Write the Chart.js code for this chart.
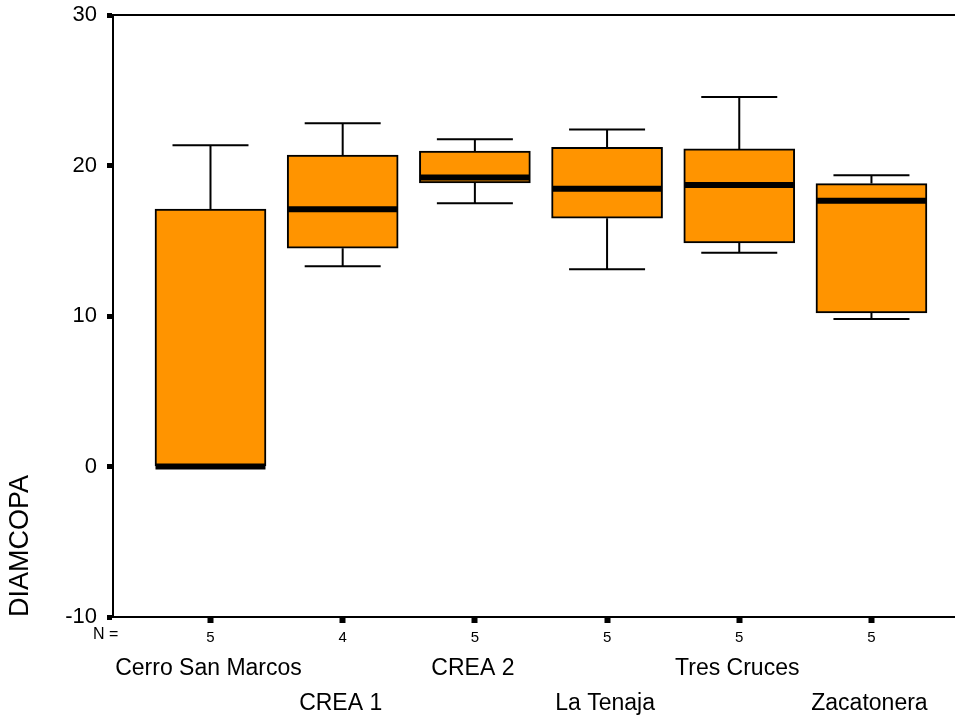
<!DOCTYPE html>
<html>
<head>
<meta charset="utf-8">
<script src="https://cdn.jsdelivr.net/npm/chart.js@4"></script>
<style>
  html, body { margin: 0; padding: 0; background: #fff; }
  #wrap { width: 955px; height: 718px; }
</style>
</head>
<body>
<div id="wrap"><canvas id="box-chart" width="955" height="718"></canvas></div>
<script>
// --- données ---
const sites = ['Cerro San Marcos', 'CREA 1', 'CREA 2', 'La Tenaja', 'Tres Cruces', 'Zacatonera'];
const counts = [5, 4, 5, 5, 5, 5];
const whiskerLow = [0, 13.3, 17.5, 13.1, 14.2, 9.8];
const q1 = [0, 14.5, 18.85, 16.5, 14.85, 10.2];
const median = [0, 17.1, 19.2, 18.45, 18.7, 17.65];
const q3 = [17.1, 20.7, 20.95, 21.2, 21.1, 18.8];
const whiskerHigh = [21.35, 22.8, 21.75, 22.4, 24.55, 19.35];
const yTicks = [-10, 0, 10, 20, 30];

const FONT = 'Liberation Sans, Arial, sans-serif';

// moustaches, médianes, cadre et noms des sites
const boxExtras = {
    id: 'boxExtras',
    afterDatasetsDraw(chart) {
        const ctx = chart.ctx;
        const x = chart.scales.x;
        const y = chart.scales.y;
        const area = chart.chartArea;
        ctx.save();
        ctx.strokeStyle = '#000';
        ctx.lineCap = 'butt';
        sites.forEach((s, i) => {
            const cx = x.getPixelForValue(i + 1);
            const capHalf = 38;
            ctx.lineWidth = 2;
            ctx.beginPath();
            // moustache haute
            ctx.moveTo(cx, y.getPixelForValue(q3[i]));
            ctx.lineTo(cx, y.getPixelForValue(whiskerHigh[i]));
            ctx.moveTo(cx - capHalf, y.getPixelForValue(whiskerHigh[i]));
            ctx.lineTo(cx + capHalf, y.getPixelForValue(whiskerHigh[i]));
            // moustache basse
            if (whiskerLow[i] < q1[i]) {
                ctx.moveTo(cx, y.getPixelForValue(q1[i]));
                ctx.lineTo(cx, y.getPixelForValue(whiskerLow[i]));
                ctx.moveTo(cx - capHalf, y.getPixelForValue(whiskerLow[i]));
                ctx.lineTo(cx + capHalf, y.getPixelForValue(whiskerLow[i]));
            }
            ctx.stroke();
            // médiane
            ctx.lineWidth = 6;
            ctx.beginPath();
            ctx.moveTo(cx - 55, y.getPixelForValue(median[i]));
            ctx.lineTo(cx + 55, y.getPixelForValue(median[i]));
            ctx.stroke();
        });
        // ligne du haut du cadre
        ctx.lineWidth = 2;
        ctx.beginPath();
        ctx.moveTo(area.left, area.top);
        ctx.lineTo(area.right, area.top);
        ctx.stroke();

        // N = et noms des sites
        ctx.fillStyle = '#000';
        ctx.textBaseline = 'middle';
        ctx.textAlign = 'left';
        ctx.font = '16px ' + FONT;
        ctx.fillText('N =', 93, 635);
        ctx.textAlign = 'center';
        ctx.font = '23px ' + FONT;
        sites.forEach((s, i) => {
            const cx = x.getPixelForValue(i + 1);
            ctx.fillText(s, cx - 2, i % 2 === 0 ? 669 : 704);
        });
        ctx.restore();
    }
};

new Chart(document.getElementById('box-chart'), {
    type: 'bar',
    data: {
        datasets: [{
            data: sites.map((s, i) => ({ x: i + 1, y: [q1[i], q3[i]] })),
            backgroundColor: 'rgb(255, 148, 0)',
            borderColor: '#000',
            borderWidth: 2,
            borderSkipped: false,
            barThickness: 111
        }]
    },
    options: {
        responsive: false,
        animation: false,
        layout: { padding: { left: 0, right: 0, top: 15, bottom: 0 } },
        plugins: { legend: { display: false }, tooltip: { enabled: false } },
        scales: {
            x: {
                type: 'linear',
                offset: false,
                min: 0.2625,
                max: 6.632,
                afterBuildTicks: (scale) => { scale.ticks = sites.map((s, i) => ({ value: i + 1 })); },
                afterFit: (scale) => { scale.height = 718 - 617; scale.paddingLeft = 0; scale.paddingRight = 0; },
                grid: {
                    display: true,
                    offset: false,
                    drawOnChartArea: false,
                    tickLength: 6,
                    tickWidth: 6,
                    tickColor: '#000'
                },
                border: { display: true, color: '#000', width: 2 },
                ticks: {
                    autoSkip: false,
                    maxRotation: 0,
                    padding: 6,
                    color: '#000',
                    font: { family: FONT, size: 15 },
                    callback: (v) => counts[v - 1]
                }
            },
            y: {
                min: -10,
                max: 30,
                afterBuildTicks: (scale) => { scale.ticks = yTicks.map(v => ({ value: v })); },
                afterFit: (scale) => { scale.width = 113; scale.paddingTop = 0; scale.paddingBottom = 0; },
                grid: {
                    display: true,
                    drawOnChartArea: false,
                    tickLength: 6,
                    tickWidth: 5,
                    tickColor: '#000'
                },
                border: { display: true, color: '#000', width: 2 },
                ticks: {
                    padding: 10,
                    color: '#000',
                    font: { family: FONT, size: 22 }
                },
                title: {
                    display: true,
                    text: 'DIAMCOPA',
                    align: 'start',
                    color: '#000',
                    font: { family: FONT, size: 27 },
                    padding: { top: 4, bottom: 0 }
                }
            }
        }
    },
    plugins: [boxExtras]
});
</script>
</body>
</html>
